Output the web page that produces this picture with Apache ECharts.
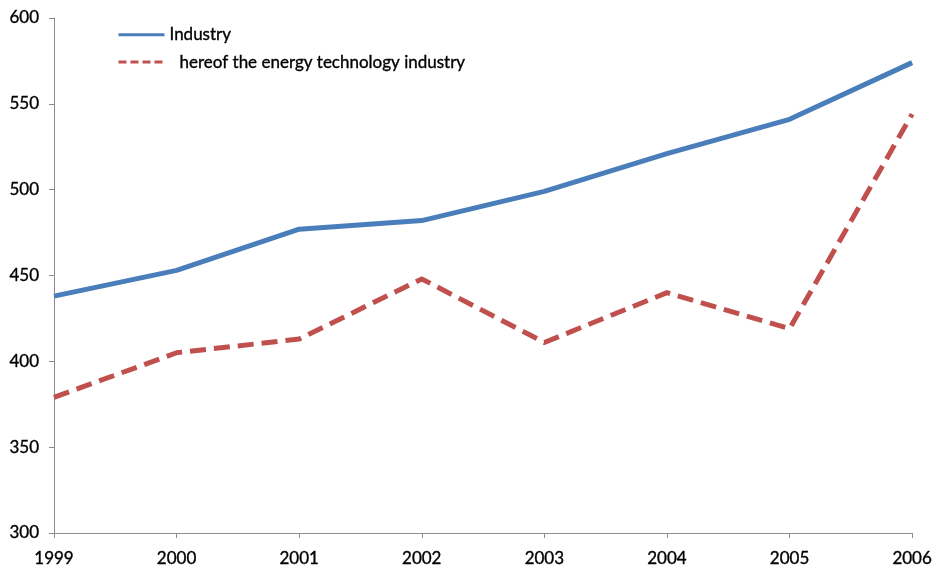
<!DOCTYPE html>
<html>
<head>
<meta charset="utf-8">
<script src="https://cdn.jsdelivr.net/npm/echarts@6/dist/echarts.min.js"></script>
<style>
  html, body { margin: 0; padding: 0; background: #fff; }
  #chart { width: 935px; height: 570px; }
</style>
</head>
<body>
<div id="chart"></div>
<script>
// Years on the category axis
const years = ['1999', '2000', '2001', '2002', '2003', '2004', '2005', '2006'];
// Industry total
const industry = [438, 453, 477, 482, 499, 521, 541, 574];
// Share attributable to the energy technology industry
const energyTech = [379, 405, 413, 448, 411, 440, 419, 544];
// Value axis range
const yMin = 300, yMax = 600, yStep = 50;

const font = 'Lato, "Open Sans", sans-serif';
const textColor = '#000';
// slightly heavier strokes for all text
const heavy = { textBorderColor: '#000', textBorderWidth: 0.35 };
const chart = echarts.init(document.getElementById('chart'));

chart.setOption({
  animation: false,
  backgroundColor: '#ffffff',
  grid: { left: 54, right: 22, top: 18, bottom: 37, containLabel: false },
  legend: {
    orient: 'vertical',
    left: 112,
    top: 21,
    itemWidth: 46,
    itemHeight: 14,
    itemGap: 10,
    data: [
      { name: 'Industry' },
      { name: 'hereof the energy technology industry', lineStyle: { type: [8, 4], cap: 'butt' } }
    ],
    lineStyle: { width: 3 },
    itemStyle: { opacity: 0, borderWidth: 0 },
    formatter: function (name) {
      return name === 'Industry' ? name : '{p|' + name + '}';
    },
    textStyle: Object.assign({
      fontFamily: font, fontSize: 17, color: textColor,
      rich: { p: Object.assign({ fontFamily: font, fontSize: 17, color: textColor, padding: [0, 0, 0, 10] }, heavy) }
    }, heavy)
  },
  xAxis: {
    type: 'category',
    data: years,
    boundaryGap: false,
    axisLine: { lineStyle: { color: '#8c8c8c', width: 1 } },
    axisTick: { show: true, length: 5, alignWithLabel: true, lineStyle: { color: '#8c8c8c' } },
    axisLabel: Object.assign({ fontFamily: font, fontSize: 17, color: textColor, margin: 17 }, heavy),
    splitLine: { show: false }
  },
  yAxis: {
    type: 'value',
    min: yMin,
    max: yMax,
    interval: yStep,
    axisLine: { show: true, lineStyle: { color: '#8c8c8c', width: 1 } },
    axisTick: { show: true, length: 5, lineStyle: { color: '#8c8c8c' } },
    axisLabel: Object.assign({ fontFamily: font, fontSize: 17, color: textColor, margin: 15 }, heavy),
    splitLine: { show: false }
  },
  series: [
    {
      name: 'Industry',
      type: 'line',
      data: industry,
      symbol: 'none',
      lineStyle: { color: '#4a7ebb', width: 5, join: 'round' },
      itemStyle: { color: '#4a7ebb' }
    },
    {
      name: 'hereof the energy technology industry',
      type: 'line',
      data: energyTech,
      symbol: 'none',
      lineStyle: { color: '#c0504d', width: 5, type: [16, 8], join: 'round' },
      itemStyle: { color: '#c0504d' }
    }
  ]
});
</script>
</body>
</html>
